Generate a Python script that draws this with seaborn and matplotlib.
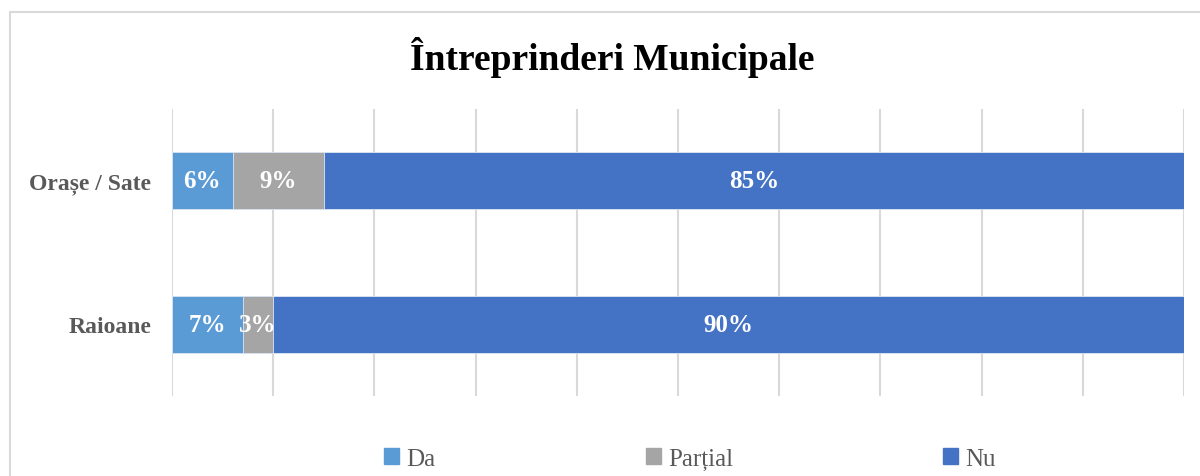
"""
Întreprinderi Municipale - bară orizontală stivuită 100%
"""
import matplotlib
matplotlib.use('Agg')
import matplotlib.pyplot as plt
import matplotlib.patches as mpatches
import numpy as np
import seaborn as sns

sns.set_style('white')
plt.rcParams['font.family'] = ['Liberation Serif', 'DejaVu Serif']

# date
categorii = ['Orașe / Sate', 'Raioane']
serii = ['Da', 'Parțial', 'Nu']
da = [6, 7]
partial = [9, 3]
nu = [85, 90]
culori = ['#5B9BD5', '#A5A5A5', '#4472C4']

valori = np.array([da, partial, nu], dtype=float)
cumul = np.cumsum(valori, axis=0)

fig = plt.figure(figsize=(12, 4.77), dpi=100)
ax = fig.add_axes([0.1433, 0.1677, 0.8434, 0.6017])

# desenăm barele cumulative de la cea mai lungă la cea mai scurtă
for i in range(len(serii) - 1, -1, -1):
    sns.barplot(x=cumul[i], y=categorii, orient='h', color=culori[i],
                width=0.4, saturation=1, edgecolor='#DDE6F3', linewidth=0.6, ax=ax)

# etichete de date
for i in range(len(serii)):
    stanga = cumul[i] - valori[i]
    for j in range(len(categorii)):
        ax.text(stanga[j] + valori[i][j] / 2, j, f'{valori[i][j]:.0f}%',
                ha='center', va='center', color='white', fontsize=18, fontweight='bold')

ax.set_xlim(0, 100)
ax.set_ylim(1.5, -0.5)
ax.set_xticks(np.arange(0, 101, 10))
ax.set_xticklabels([])
ax.grid(True, axis='x', color='#D9D9D9', linewidth=1.5)
ax.grid(False, axis='y')
ax.set_axisbelow(True)
for s in ax.spines.values():
    s.set_visible(False)
ax.tick_params(axis='both', length=0)
ax.tick_params(axis='y', pad=15)
for lbl in ax.get_yticklabels():
    lbl.set_fontsize(17)
    lbl.set_fontweight('bold')
    lbl.set_color('#595959')
ax.set_xlabel('')
ax.set_ylabel('')

fig.suptitle('Întreprinderi Municipale', x=0.51, y=1 - 57 / 477, va='center',
             fontsize=27, fontweight='bold', color='black')

# legenda
handles = [mpatches.Patch(color=c, label=s) for c, s in zip(culori, serii)]
fig.legend(handles=handles, loc='center', bbox_to_anchor=(0.575, 1 - 460 / 477),
           ncol=3, frameon=False, fontsize=18, labelcolor='#595959',
           handlelength=0.6, handleheight=0.6, handletextpad=0.3, columnspacing=8.4)

# chenarul graficului
chenar = mpatches.Rectangle((10 / 1200, -0.2), 1.2, 1.2 - 13 / 477, transform=fig.transFigure,
                            fill=False, edgecolor='#D9D9D9', linewidth=1.5, clip_on=False)
fig.patches.append(chenar)

plt.savefig('out.png', dpi=100)
plt.close()
